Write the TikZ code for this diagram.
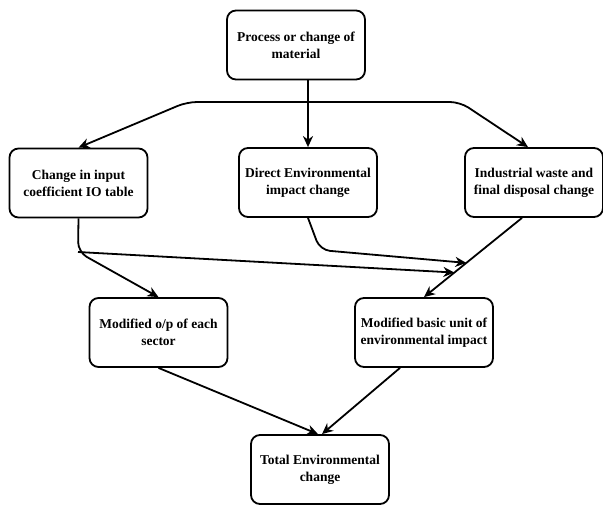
\documentclass[tikz,border=0pt]{standalone}
\usepackage{fontspec}
\setmainfont{Liberation Serif}
\usetikzlibrary{arrows.meta, calc}
\tikzset{
  box/.style={rectangle, rounded corners=9pt, draw=black, line width=1.8pt, fill=white,
    font=\bfseries\fontsize{13.5}{17}\selectfont, minimum width=138pt, minimum height=69pt,
    align=center, inner sep=2pt},
  ar/.style={-{Stealth[length=11pt,width=10pt,inset=3.5pt]}, draw=black, line width=1.8pt, rounded corners=10pt},
}

\begin{document}
\begin{tikzpicture}[x=1pt, y=-1pt]
\useasboundingbox (0,0) rectangle (603,504);

%% ===== NODES =====
\node[box] (proc) at (296,45)    {Process or change of\\material};

% -- second row --
\node[box] (ioc)  at (78.5,183)  {Change in input\\coefficient IO table};
\node[box] (dei)  at (308,182.5) {Direct Environmental\\impact change};
\node[box] (iwd)  at (534,182.5) {Industrial waste and\\final disposal change};

% -- third row --
\node[box] (mop)  at (158.5,332.5) {Modified o/p of each\\sector};
\node[box] (mbu)  at (424,332.5)   {Modified basic unit of\\environmental impact};

% -- result --
\node[box] (tec)  at (320,469.5) {Total Environmental\\change};

%% ===== BEND POINTS =====
\coordinate (split)  at (308,102);
\coordinate (bendL)  at (187,102);
\coordinate (bendR)  at (460,102);
\coordinate (drop)   at (78,252);
\coordinate (bendD)  at (320,250);
\coordinate (iwdout) at ([xshift=-12]iwd.south);
\coordinate (hitA)   at ($(iwdout)!0.69!(mbu.north)$);
\coordinate (hitB)   at ($(iwdout)!0.568!(mbu.north)$);

%% ===== CONNECTORS =====
\draw[ar] (dei.north |- proc.south) -- (dei.north);
\draw[ar] (split) -- (bendL) -- (ioc.north);
\draw[ar] (split) -- (bendR) -- ([xshift=-6]iwd.north);
\draw[ar] (ioc.south) -- (drop) -- (mop.north);
\draw[ar] (drop) -- (hitA);
\draw[ar] (dei.south) -- (bendD) -- (hitB);
\draw[ar] (iwdout) -- (mbu.north);
\draw[ar] (mop.south) -- ([xshift=-2]tec.north);
\draw[ar] ([xshift=-24]mbu.south) -- ([xshift=2]tec.north);
\end{tikzpicture}
\end{document}
